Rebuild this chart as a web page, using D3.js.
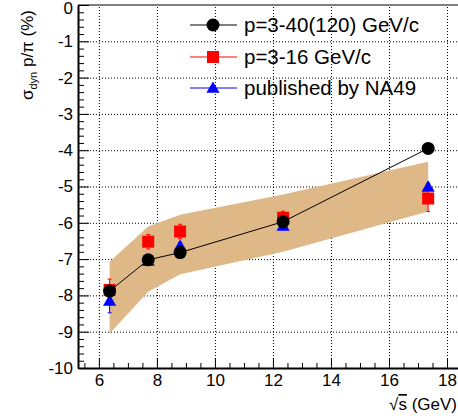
<!DOCTYPE html>
<html>
<head>
<meta charset="utf-8">
<script src="https://cdn.jsdelivr.net/npm/d3@7"></script>
<style>
  body { margin: 0; background: #fff; }
  svg { display: block; font-family: "Liberation Sans", Arial, sans-serif; }
  .grid line { stroke: #000; stroke-dasharray: 1,2; stroke-width: 1; }
  .grid path { display: none; }
</style>
</head>
<body>
<svg width="458" height="419"></svg>
<script>
'use strict';

// collision energies (GeV)
const sqrtS = [6.37, 7.7, 8.8, 12.35, 17.35];
// p = 3-40(120) GeV/c
const wideVals = [-7.88, -7.02, -6.82, -5.97, -3.95];
// p = 3-16 GeV/c
const narrowVals = [-7.85, -6.52, -6.24, -5.86, -5.33];
const narrowErr = [0.3, 0.2, 0.2, 0.18, 0.36];
// NA49 published
const na49Vals = [-8.15, -7.05, -6.64, -6.09, -5.01];
const na49Err = [0.33, 0.1, 0.1, 0.1, 0.1];
// shaded band
const bandUpper = [-7.07, -6.1, -5.78, -5.22, -4.32];
const bandLower = [-9.05, -7.9, -7.42, -6.8, -5.69];

const xTicks = [6, 8, 10, 12, 14, 16, 18];
const yTicks = [0, -1, -2, -3, -4, -5, -6, -7, -8, -9, -10];
const legendLabels = ["p=3-40(120) GeV/c", "p=3-16 GeV/c", "published by NA49"];

const LEFT = 78, RIGHT = 465, TOP = 5, BOTTOM = 368;

const svg = d3.select("svg");
const x = d3.scaleLinear().domain([5.28, 18.62]).range([LEFT, RIGHT]);
const y = d3.scaleLinear().domain([-10, 0]).range([BOTTOM, TOP]);
const plainNum = d => String(d);

// grid
svg.append("g").attr("class", "grid")
   .attr("transform", `translate(0,${BOTTOM})`)
   .call(d3.axisBottom(x).tickValues(xTicks).tickSize(-(BOTTOM - TOP)).tickFormat(""));
svg.append("g").attr("class", "grid")
   .attr("transform", `translate(${LEFT},0)`)
   .call(d3.axisLeft(y).tickValues(yTicks.filter(v => v > -10 && v < 0)).tickSize(-(RIGHT - LEFT)).tickFormat(""));

// band
const bandPts = sqrtS.map((s, i) => [x(s), y(bandUpper[i])])
   .concat(sqrtS.map((s, i) => [x(s), y(bandLower[i])]).reverse());
svg.append("path")
   .attr("d", d3.line()(bandPts) + "Z")
   .attr("fill", "#deb887");

// frame
svg.append("line").attr("x1", LEFT).attr("x2", RIGHT).attr("y1", TOP).attr("y2", TOP)
   .attr("stroke", "#000").attr("stroke-width", 1);

// axes
const axisFont = g => g.selectAll("text").attr("font-size", 17).attr("font-family", "Liberation Sans, Arial, sans-serif").attr("fill", "#000");

const xMinor = d3.range(5.5, 18.6, 0.5).filter(v => v % 2 !== 0);
svg.append("g")
   .attr("transform", `translate(0,${BOTTOM})`)
   .call(d3.axisBottom(x).tickValues(xMinor).tickSize(-5).tickSizeOuter(0).tickFormat(""))
   .call(g => g.select(".domain").remove());
svg.append("g")
   .attr("transform", `translate(0,${BOTTOM})`)
   .call(d3.axisBottom(x).tickValues(xTicks).tickSize(-10).tickSizeOuter(0).tickPadding(6).tickFormat(plainNum))
   .call(axisFont)
   .call(g => g.select(".domain").attr("stroke-width", 2));

const yMinor = d3.range(-9.8, 0, 0.2).filter(v => Math.abs(v - Math.round(v)) > 0.01);
svg.append("g")
   .attr("transform", `translate(${LEFT},0)`)
   .call(d3.axisLeft(y).tickValues(yMinor).tickSize(-6).tickSizeOuter(0).tickFormat(""))
   .call(g => g.select(".domain").remove());
svg.append("g")
   .attr("transform", `translate(${LEFT},0)`)
   .call(d3.axisLeft(y).tickValues(yTicks).tickSize(-11).tickSizeOuter(0).tickPadding(5).tickFormat(plainNum))
   .call(axisFont)
   .call(g => g.select(".domain").attr("stroke-width", 2))
   .call(g => g.selectAll(".tick text").filter(d => d === 0).attr("dy", "0.52em"));

// axis titles
const xt = svg.append("text")
   .attr("x", 457).attr("y", 410)
   .attr("text-anchor", "end")
   .attr("font-size", 17);
xt.append("tspan").text("√");
xt.append("tspan").attr("text-decoration", "overline").text("s");
xt.append("tspan").text(" (GeV)");

const yt = svg.append("text")
   .attr("transform", "translate(33,10) rotate(-90)")
   .attr("text-anchor", "end")
   .attr("font-size", 17);
yt.append("tspan").text("σ");
yt.append("tspan").attr("font-size", 11).attr("dy", 4).text("dyn");
yt.append("tspan").attr("dy", -4).text(" p/π (%)");

// markers
const triangle = d3.symbol().type(d3.symbolTriangle).size(75);

function errorBars(vals, errs, color) {
   const g = svg.append("g").attr("stroke", color).attr("stroke-width", 1);
   sqrtS.forEach((s, i) => {
      const cx = x(s), y0 = y(vals[i] - errs[i]), y1 = y(vals[i] + errs[i]);
      g.append("line").attr("x1", cx).attr("x2", cx).attr("y1", y0).attr("y2", y1);
      g.append("line").attr("x1", cx - 2).attr("x2", cx + 2).attr("y1", y0).attr("y2", y0);
      g.append("line").attr("x1", cx - 2).attr("x2", cx + 2).attr("y1", y1).attr("y2", y1);
   });
}

// red squares
errorBars(narrowVals, narrowErr, "#ff0000");
svg.append("g").selectAll("rect").data(narrowVals).enter().append("rect")
   .attr("x", (d, i) => x(sqrtS[i]) - 6)
   .attr("y", d => y(d) - 6)
   .attr("width", 12).attr("height", 12)
   .attr("fill", "#ff0000");

// blue triangles
errorBars(na49Vals, na49Err, "#0000ff");
svg.append("g").selectAll("path").data(na49Vals).enter().append("path")
   .attr("d", triangle)
   .attr("transform", (d, i) => `translate(${x(sqrtS[i])},${y(d) + 1})`)
   .attr("fill", "#0000ff");

// black circles with line
svg.append("path")
   .datum(wideVals)
   .attr("d", d3.line().x((d, i) => x(sqrtS[i])).y(d => y(d)))
   .attr("fill", "none").attr("stroke", "#000").attr("stroke-width", 1);
svg.append("g").selectAll("circle").data(wideVals).enter().append("circle")
   .attr("cx", (d, i) => x(sqrtS[i]))
   .attr("cy", d => y(d))
   .attr("r", 6.5)
   .attr("fill", "#000");

// legend
const legendColors = ["#000", "#ff0000", "#0000ff"];
const legendY = [25, 57, 88];
legendLabels.forEach((label, i) => {
   const g = svg.append("g").attr("transform", `translate(190,${legendY[i]})`);
   g.append("line").attr("x1", 0).attr("x2", 47).attr("stroke", legendColors[i]).attr("stroke-width", 1);
   if (i === 0) g.append("circle").attr("cx", 23).attr("r", 6.5).attr("fill", "#000");
   if (i === 1) g.append("rect").attr("x", 17).attr("y", -6).attr("width", 12).attr("height", 12).attr("fill", "#ff0000");
   if (i === 2) g.append("path").attr("d", triangle).attr("transform", "translate(23,1)").attr("fill", "#0000ff");
   g.append("text").attr("x", 54).attr("y", 7).attr("font-size", 20.5).text(label);
});
</script>
</body>
</html>
